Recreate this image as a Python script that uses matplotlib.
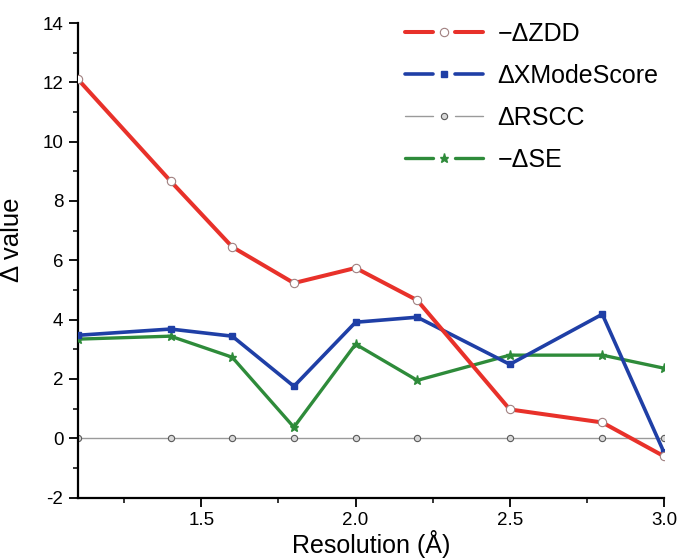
import matplotlib
matplotlib.use("Agg")
import matplotlib.pyplot as plt
from matplotlib.lines import Line2D
from matplotlib.legend_handler import HandlerLine2D
from matplotlib.ticker import MultipleLocator

plt.rcParams['font.family'] = ['Liberation Sans', 'DejaVu Sans']
plt.rcParams['axes.unicode_minus'] = False

resolution = [1.1, 1.4, 1.6, 1.8, 2.0, 2.2, 2.5, 2.8, 3.0]
neg_dzdd = [12.1, 8.67, 6.45, 5.23, 5.74, 4.65, 0.97, 0.53, -0.61]
d_xmode = [3.47, 3.68, 3.44, 1.75, 3.91, 4.08, 2.49, 4.18, -0.48]
d_rscc = [0.0, 0.0, 0.0, 0.0, 0.0, 0.0, 0.0, 0.0, 0.0]
neg_dse = [3.34, 3.44, 2.73, 0.37, 3.17, 1.95, 2.80, 2.80, 2.36]
labels = ['\u2212\u0394ZDD', '\u0394XModeScore', '\u0394RSCC', '\u2212\u0394SE']


class GapHandler(HandlerLine2D):
    def create_artists(self, legend, orig_handle, xdescent, ydescent,
                       width, height, fontsize, trans):
        y = (height - ydescent) / 2.0
        seg = width * 0.36
        l1 = Line2D([-xdescent, -xdescent + seg], [y, y])
        l2 = Line2D([width - xdescent - seg, width - xdescent], [y, y])
        m = Line2D([width / 2 - xdescent], [y])
        for ln in (l1, l2):
            ln.set_color(orig_handle.get_color())
            ln.set_linewidth(orig_handle.get_linewidth())
            ln.set_solid_capstyle('round')
            ln.set_transform(trans)
        m.set_marker(orig_handle.get_marker())
        m.set_markersize(orig_handle.get_markersize())
        m.set_markerfacecolor(orig_handle.get_markerfacecolor())
        m.set_markeredgecolor(orig_handle.get_markeredgecolor())
        m.set_markeredgewidth(orig_handle.get_markeredgewidth())
        m.set_linestyle('none')
        m.set_transform(trans)
        return [l1, l2, m]


fig = plt.figure(figsize=(6.78, 5.6), dpi=100)
ax = fig.add_axes([78 / 678, 1 - 497.5 / 560, 586 / 678, 474.5 / 560])

h_rscc, = ax.plot(resolution, d_rscc, color='#9a9a9a', lw=1.0, marker='o', ms=4.5,
                  mfc='#d8d8d8', mec='#5a5a5a', mew=0.8, zorder=2)
h_se, = ax.plot(resolution, neg_dse, color='#2e8b3a', lw=2.4, marker='*', ms=6.5,
                mfc='#2e8b3a', mec='#2e8b3a', zorder=3)
h_x, = ax.plot(resolution, d_xmode, color='#1f3fa6', lw=2.6, marker='s', ms=4.5,
               mfc='#1f3fa6', mec='#1f3fa6', zorder=4)
h_z, = ax.plot(resolution, neg_dzdd, color='#e8312a', lw=2.9, marker='o', ms=6,
               mfc='white', mec='#a08080', mew=0.8, zorder=5)

ax.set_xlim(1.1, 3.0)
ax.set_ylim(-2, 14)
ax.xaxis.set_minor_locator(MultipleLocator(0.25))
ax.yaxis.set_major_locator(MultipleLocator(2))
ax.yaxis.set_minor_locator(MultipleLocator(1))
ax.set_xticks([1.5, 2.0, 2.5, 3.0])
ax.set_xticklabels(['1.5', '2.0', '2.5', '3.0'])

for s in ['top', 'right']:
    ax.spines[s].set_visible(False)
for s in ['left', 'bottom']:
    ax.spines[s].set_linewidth(1.6)
ax.tick_params(which='major', direction='out', length=6.5, width=1.3,
               labelsize=13.5, pad=4)
ax.tick_params(which='minor', direction='out', length=3.6, width=1.1)

ax.set_xlabel('Resolution (\u00c5)', fontsize=18, labelpad=1)
ax.set_ylabel('\u0394 value', fontsize=18.5)
ax.yaxis.set_label_coords(-0.092, 0.543)

leg = ax.legend([h_z, h_x, h_rscc, h_se], labels, loc='upper left',
                bbox_to_anchor=(405 / 678, 1 - 22 / 560),
                bbox_transform=fig.transFigure, borderpad=0, borderaxespad=0,
                frameon=False, fontsize=18,
                handlelength=3.1, handletextpad=0.6, labelspacing=0.72,
                handler_map={Line2D: GapHandler()})

fig.savefig('out.png', dpi=100)
